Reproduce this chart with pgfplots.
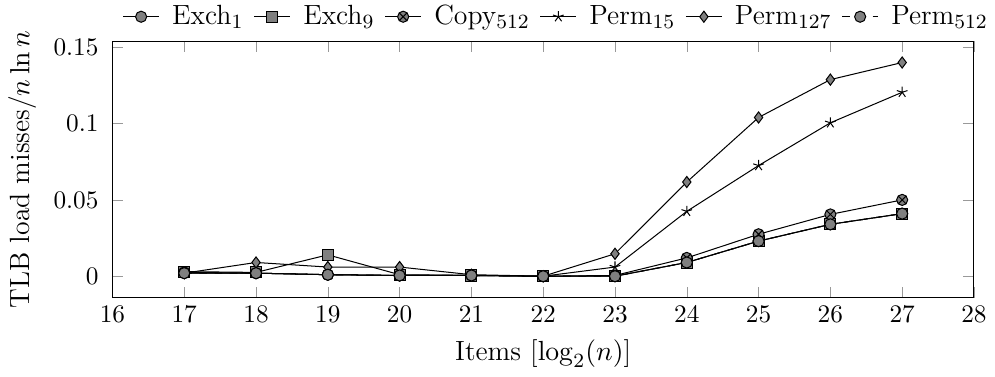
\documentclass[border=0pt]{standalone}
\usepackage{pgfplots}
\pgfplotsset{compat=1.18}
\begin{document}
\begin{tikzpicture}
\begin{axis}[
  scale only axis,
  width=341pt, height=101.5pt,
  xmin=16, xmax=28,
  xtick={16,17,...,28},
  ytick={0,0.05,0.1,0.15},
  yticklabels={0,0.05,0.1,0.15},
  yticklabel style={xshift=-2pt},
  major tick style={black!40},
  label style={font=\fontsize{11}{13.6}\selectfont},
  xlabel={Items [$\log_2(n)$]},
  ylabel={TLB load misses/$n\ln n$},
  legend columns=-1,
  legend image code/.code={\draw[mark repeat=2,mark phase=2] plot coordinates {(0cm,0cm) (0.25cm,0cm) (0.5cm,0cm)};},
  legend style={draw=none, inner sep=0pt, outer sep=0pt, at={(1.022,1.03)}, anchor=south east,
    font=\fontsize{11}{13.6}\selectfont,
    /tikz/every odd column/.append style={column sep=3pt},
    /tikz/every even column/.append style={column sep=2pt}},
]
\addplot[black, mark=*, mark size=2.2pt, mark options={solid, fill=gray}] coordinates {(17,0.002) (18,0.002) (19,0.001) (20,0.0005) (21,0.0005) (22,0) (23,0) (24,0.009) (25,0.023) (26,0.034) (27,0.041)};
\addlegendentry{Exch$_1$}
\addplot[black, mark=square*, mark size=2.2pt, mark options={solid, fill=gray}] coordinates {(17,0.003) (18,0.0025) (19,0.014) (20,0.001) (21,0.0005) (22,0) (23,0) (24,0.009) (25,0.023) (26,0.034) (27,0.041)};
\addlegendentry{Exch$_9$}
\addplot[black, mark=otimes*, mark size=2.2pt, mark options={solid, fill=gray}] coordinates {(17,0.0025) (18,0.002) (19,0.001) (20,0.0005) (21,0.0005) (22,0) (23,0.0005) (24,0.012) (25,0.0275) (26,0.0405) (27,0.05)};
\addlegendentry{Copy$_{512}$}
\addplot[black, mark=star, mark size=2.2pt, mark options={solid}] coordinates {(17,0.002) (18,0.002) (19,0.001) (20,0.0005) (21,0.0005) (22,0) (23,0.006) (24,0.0425) (25,0.0725) (26,0.1005) (27,0.1205)};
\addlegendentry{Perm$_{15}$}
\addplot[black, mark=diamond*, mark size=2.2pt, mark options={solid, fill=gray}] coordinates {(17,0.002) (18,0.009) (19,0.006) (20,0.006) (21,0.001) (22,0) (23,0.0147) (24,0.0617) (25,0.104) (26,0.1288) (27,0.140)};
\addlegendentry{Perm$_{127}$}
\addplot[black, dashed, mark=*, mark size=2.2pt, mark options={solid, fill=gray}] coordinates {(17,0.002) (18,0.002) (19,0.001) (20,0.0005) (21,0.0005) (22,0) (23,0) (24,0.009) (25,0.023) (26,0.034) (27,0.041)};
\addlegendentry{Perm$_{512}$}
\end{axis}
\end{tikzpicture}
\end{document}
